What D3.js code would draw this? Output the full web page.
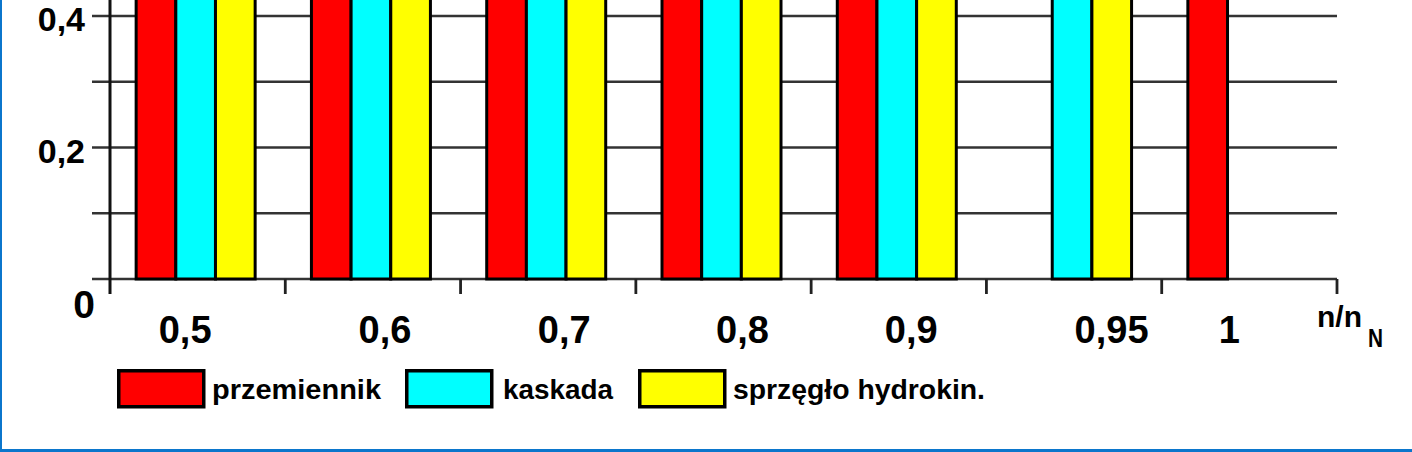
<!DOCTYPE html>
<html>
<head>
<meta charset="utf-8">
<script src="https://cdn.jsdelivr.net/npm/d3@7"></script>
<style>
  html, body { margin: 0; padding: 0; background: #fff; }
  svg { display: block; }
  text { font-family: "Liberation Sans", Arial, sans-serif; font-weight: bold; fill: #000; }
</style>
</head>
<body>
<svg id="chart" width="1412" height="452"></svg>
<script>
// ---- data ----
const categories = ["0,5", "0,6", "0,7", "0,8", "0,9", "0,95", "1"];
const seriesNames = ["przemiennik", "kaskada", "sprzęgło hydrokin."];
const przemiennik = [0.82, 0.86, 0.89, 0.91, 0.93, 0, 0.95];
const kaskada     = [0.62, 0.70, 0.77, 0.83, 0.88, 0.92, 0];
const sprzeglo    = [0.48, 0.58, 0.68, 0.77, 0.87, 0.92, 0];
const gridValues  = [0, 0.1, 0.2, 0.3, 0.4];
const yTickLabels = [{ v: 0.2, t: "0,2" }, { v: 0.4, t: "0,4" }];
const axisTitle = "n/n";
const axisTitleSub = "N";

// ---- layout ----
const colors = ["#ff0000", "#00ffff", "#ffff00"];
const labelShift = [-12.5, 12, 16, 19, 12.5, 37.5, -20];
const svg = d3.select("#chart");

const y = d3.scaleLinear().domain([0, 0.4]).range([279, 16]);
const x0 = d3.scaleBand().domain(categories).range([110, 1337]).padding(0);
const groupW = 119;
const x1 = d3.scaleBand().domain(seriesNames).range([0, groupW]).padding(0);
const groupOffset = (x0.bandwidth() - groupW) / 2 - 2;

// grid lines
svg.append("g").selectAll("line").data(gridValues).join("line")
  .attr("x1", 92).attr("x2", 1337)
  .attr("y1", d => y(d)).attr("y2", d => y(d))
  .attr("stroke", "#333").attr("stroke-width", 2.6);

// y axis vertical line
svg.append("line").attr("x1", 110).attr("x2", 110).attr("y1", 0).attr("y2", 294)
  .attr("stroke", "#111").attr("stroke-width", 3);

// x ticks at band boundaries
const boundaries = categories.slice(1).map(c => x0(c)).concat([x0.range()[1]]);
svg.append("g").selectAll("line").data(boundaries).join("line")
  .attr("x1", d => d).attr("x2", d => d)
  .attr("y1", y(0)).attr("y2", 294)
  .attr("stroke", "#222").attr("stroke-width", 2.8);

// bars
const allSeries = [przemiennik, kaskada, sprzeglo];
const barData = [];
categories.forEach((c, i) => {
  seriesNames.forEach((s, j) => {
    const v = allSeries[j][i];
    if (v > 0) barData.push({ c, s, v, j });
  });
});
svg.append("g").selectAll("rect").data(barData).join("rect")
  .attr("x", d => x0(d.c) + groupOffset + x1(d.s))
  .attr("width", x1.bandwidth())
  .attr("y", d => y(d.v))
  .attr("height", d => y(0) - y(d.v))
  .attr("fill", d => colors[d.j])
  .attr("stroke", "#000").attr("stroke-width", 3);

// y tick labels
svg.append("g").selectAll("text").data(yTickLabels).join("text")
  .attr("x", 85).attr("y", d => y(d.v) + 15)
  .attr("text-anchor", "end").attr("font-size", 34)
  .text(d => d.t);
svg.append("text").attr("x", 95).attr("y", 318)
  .attr("text-anchor", "end").attr("font-size", 39).text("0");

// x tick labels
svg.append("g").selectAll("text").data(categories).join("text")
  .attr("x", (d, i) => x0(d) + x0.bandwidth() / 2 + labelShift[i])
  .attr("y", 343)
  .attr("text-anchor", "middle").attr("font-size", 38)
  .text(d => d);

// axis title n/nN
svg.append("text").attr("x", 1317).attr("y", 327).attr("font-size", 29)
  .attr("textLength", 45).attr("lengthAdjust", "spacingAndGlyphs").text(axisTitle);
svg.append("text").attr("x", 1368).attr("y", 347).attr("font-size", 26)
  .attr("textLength", 15).attr("lengthAdjust", "spacingAndGlyphs").text(axisTitleSub);

// legend
const legendBoxX = [117, 405, 638];
const legendTextX = [212, 503, 733];
const legendTextW = [169, 110, 252];
const lg = svg.append("g");
seriesNames.forEach((s, j) => {
  lg.append("rect").attr("x", legendBoxX[j] + 1.75).attr("y", 370.75)
    .attr("width", 85).attr("height", 36)
    .attr("fill", colors[j]).attr("stroke", "#000").attr("stroke-width", 3.5);
  lg.append("text").attr("x", legendTextX[j]).attr("y", 399)
    .attr("font-size", 28).attr("textLength", legendTextW[j])
    .attr("lengthAdjust", "spacingAndGlyphs").text(s);
});

// blue frame (left and bottom)
svg.append("rect").attr("x", 0).attr("y", 0).attr("width", 2).attr("height", 452).attr("fill", "#0b76cc");
svg.append("rect").attr("x", 0).attr("y", 449).attr("width", 1412).attr("height", 3).attr("fill", "#0b76cc");
</script>
</body>
</html>
